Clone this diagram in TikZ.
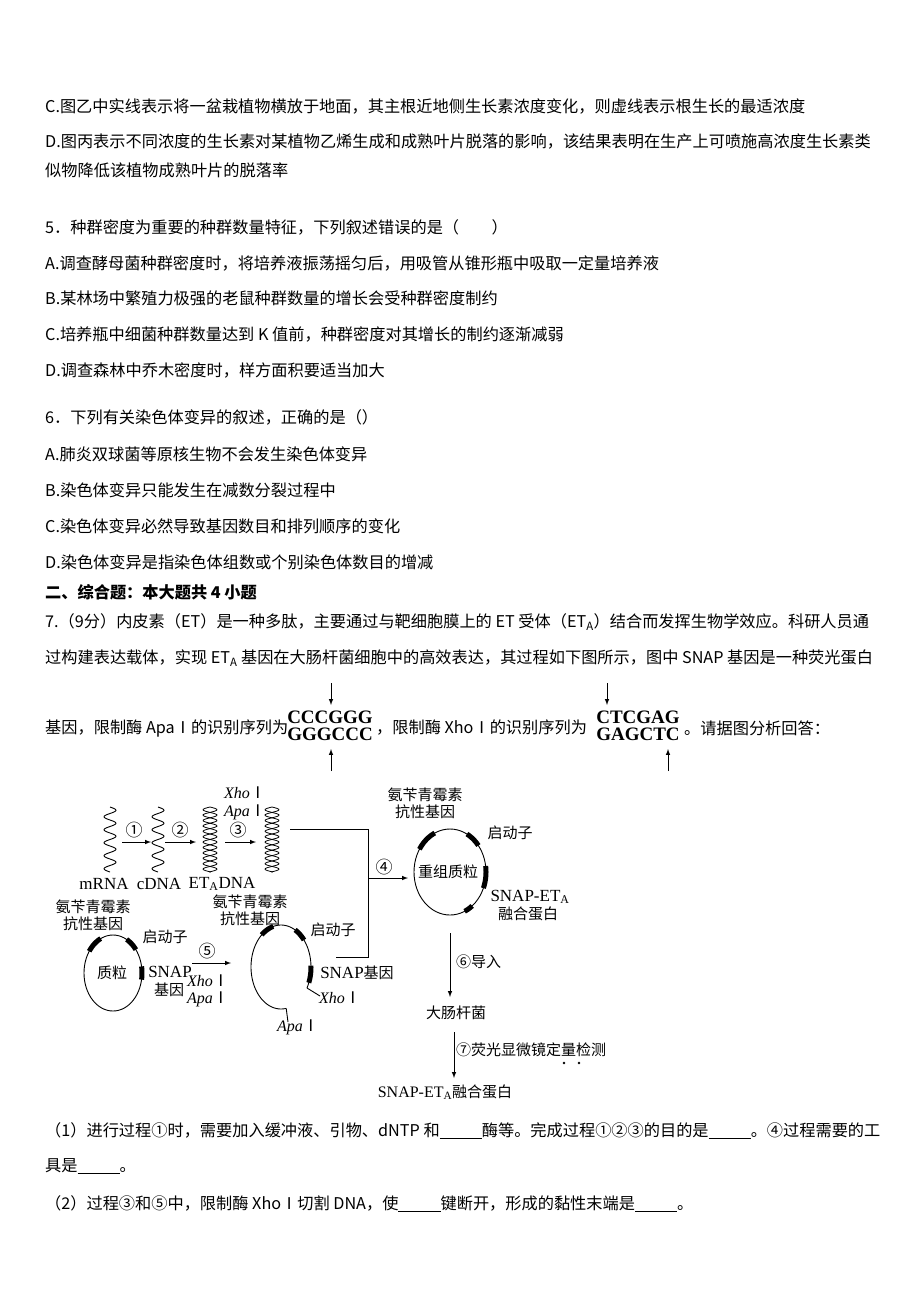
\documentclass[tikz,border=0pt]{standalone}
\usepackage{fontspec}
\setmainfont{Noto Sans CJK SC}
\newfontfamily\lat{Liberation Serif}
\newfontfamily\cjk{Noto Sans CJK SC}
\newcommand{\rI}{{\cjk\upshape Ⅰ}}
\begin{document}
\begin{tikzpicture}[x=1pt,y=-1pt,
 txt/.style={anchor=west,inner sep=0pt,font=\fontsize{16.2}{19}\selectfont},
 lab/.style={inner sep=0pt,font=\fontsize{15}{17}\selectfont,align=center},
 num/.style={inner sep=0pt,font=\fontsize{17}{18}\selectfont},
 latl/.style={inner sep=0pt,font=\lat\fontsize{17}{18}\selectfont,align=center},
 itl/.style={inner sep=0pt,font=\lat\itshape\fontsize{16}{18}\selectfont},
 seq/.style={inner sep=0pt,font=\lat\bfseries\fontsize{19}{20}\selectfont,align=center},
 arr/.style={-{latex},line width=1pt},
 thick seg/.style={line width=5pt}]
\useasboundingbox (0,0) rectangle (920,1302);
\fill[white] (0,0) rectangle (920,1302);
\node[txt] (l1) at (45,106) {C.图乙中实线表示将一盆栽植物横放于地面，其主根近地侧生长素浓度变化，则虚线表示根生长的最适浓度};
\node[txt] (l2) at (45,142) {D.图丙表示不同浓度的生长素对某植物乙烯生成和成熟叶片脱落的影响，该结果表明在生产上可喷施高浓度生长素类};
\node[txt] (l3) at (45,170) {似物降低该植物成熟叶片的脱落率};
\node[txt] (l4) at (45,227) {5．种群密度为重要的种群数量特征，下列叙述错误的是（\hspace{2em}）};
\node[txt] (l5) at (45,263) {A.调查酵母菌种群密度时，将培养液振荡摇匀后，用吸管从锥形瓶中吸取一定量培养液};
\node[txt] (l6) at (45,298) {B.某林场中繁殖力极强的老鼠种群数量的增长会受种群密度制约};
\node[txt] (l7) at (45,334) {C.培养瓶中细菌种群数量达到 K 值前，种群密度对其增长的制约逐渐减弱};
\node[txt] (l8) at (45,370) {D.调查森林中乔木密度时，样方面积要适当加大};
\node[txt] (l9) at (45,417) {6．下列有关染色体变异的叙述，正确的是（）};
\node[txt] (l10) at (45,454) {A.肺炎双球菌等原核生物不会发生染色体变异};
\node[txt] (l11) at (45,490) {B.染色体变异只能发生在减数分裂过程中};
\node[txt] (l12) at (45,526) {C.染色体变异必然导致基因数目和排列顺序的变化};
\node[txt] (l13) at (45,562) {D.染色体变异是指染色体组数或个别染色体数目的增减};
\node[txt,font=\bfseries\fontsize{16.2}{19}\selectfont] (l14) at (45,592) {二、综合题：本大题共 4 小题};
\node[txt] (l15) at (45,622) {7.（9分）内皮素（ET）是一种多肽，主要通过与靶细胞膜上的 ET 受体（ET\textsubscript{A}）结合而发挥生物学效应。科研人员通};
\node[txt] (l16) at (45,658) {过构建表达载体，实现 ET\textsubscript{A} 基因在大肠杆菌细胞中的高效表达，其过程如下图所示，图中 SNAP 基因是一种荧光蛋白};
\node[txt] (l17) at (45,728) {基因，限制酶 ApaⅠ的识别序列为};
\node[seq] (s1) at (330,726) {CCCGGG\\[-3pt]GGGCCC};
\node[txt] (l18) at (376,728) {，限制酶 XhoⅠ的识别序列为};
\node[seq] (s2) at (638,726) {CTCGAG\\[-3pt]GAGCTC};
\node[txt] (l19) at (684,728) {。请据图分析回答：};
\coordinate (a1s) at (331,683); \coordinate (a1e) at (331,705);
\coordinate (a2s) at (331,771); \coordinate (a2e) at (331,749);
\coordinate (a3s) at (607,683); \coordinate (a3e) at (607,705);
\coordinate (a4s) at (668,771); \coordinate (a4e) at (668,749);
\foreach \s/\e in {a1s/a1e,a2s/a2e,a3s/a3e,a4s/a4e} \draw[arr] (\s) -- (\e);
% waves
\draw[line width=0.9pt] plot[domain=0:65,samples=80] ({110+6*sin(\x/13*360)},{807+\x});
\draw[line width=0.9pt] plot[domain=0:65,samples=80] ({158+6*sin(\x/13*360)},{807+\x});
\foreach \cx in {210,272}{
 \draw[line width=0.8pt] plot[domain=0:65,samples=90] ({\cx+7*sin(\x/10.8*360)},{807+\x});
 \draw[line width=0.8pt] plot[domain=0:65,samples=90] ({\cx-7*sin(\x/10.8*360)},{807+\x});
}
\node[latl] (mrna) at (104,884) {mRNA};
\node[latl] (cdna) at (159,884) {cDNA};
\node[latl] (etdna) at (222,884) {ET\textsubscript{A}DNA};
\node[itl] (x1) at (245,793) {Xho\rI};
\node[itl] (p1) at (245,812) {Apa\rI};
\coordinate (w1) at (122,842); \coordinate (w2) at (151,842);
\coordinate (w3) at (165,842); \coordinate (w4) at (196,842);
\coordinate (w5) at (225,842); \coordinate (w6) at (256,842);
\draw[arr] (w1)--(w2); \draw[arr] (w3)--(w4); \draw[arr] (w5)--(w6);
\node[num] (c1) at (134,830) {①};
\node[num] (c2) at (180,830) {②};
\node[num] (c3) at (238,830) {③};
% joining lines
\coordinate (j1) at (290,829); \coordinate (j2) at (368,829);
\coordinate (j3) at (368,957); \coordinate (j4) at (336,957);
\coordinate (j5) at (368,878); \coordinate (j6) at (408,878);
\draw[line width=0.9pt] (j1)--(j2)--(j3)--(j4);
\draw[arr] (j5)--(j6);
\node[num] (c4) at (384,867) {④};
% recombinant plasmid
\draw[line width=0.9pt] (450,872) ellipse (36 and 43);
\foreach \a/\b in {212/245,298/322,-8/22,52/66}
 \draw[thick seg] plot[domain=\a:\b,samples=20] ({450+36*cos(\x)},{872+43*sin(\x)});
\node[lab] (rp) at (448,872) {重组质粒};
\node[lab] (rpa) at (425,803) {氨苄青霉素\\抗性基因};
\node[lab] (rpp) at (510,833) {启动子};
\node[latl] (rps) at (530,897) {SNAP-ET\textsubscript{A}};
\node[lab] (rpf) at (528,914) {融合蛋白};
\coordinate (d1) at (450,933); \coordinate (d2) at (450,997);
\draw[arr] (d1)--(d2);
\node[lab,anchor=west] (c6) at (456,962) {⑥导入};
\node[lab] (ec) at (456,1013) {大肠杆菌};
\coordinate (d3) at (454,1032); \coordinate (d4) at (454,1078);
\draw[arr] (d3)--(d4);
\node[lab,anchor=west] (c7) at (456,1050) {⑦荧光显微镜定量检测};
\fill (564,1063) circle (1.4); \fill (579,1063) circle (1.4);
\node[lab] (fin) at (445,1092) {{\lat\fontsize{16}{17}\selectfont SNAP-ET\textsubscript{A}}融合蛋白};
% plasmid
\draw[line width=0.9pt] (113,973) ellipse (29 and 38);
\foreach \a/\b in {215/245,298/322,-10/10}
 \draw[thick seg] plot[domain=\a:\b,samples=20] ({113+29*cos(\x)},{973+38*sin(\x)});
\node[lab] (zl) at (112,973) {质粒};
\node[lab] (pa) at (93,915) {氨苄青霉素\\抗性基因};
\node[lab] (pp) at (165,937) {启动子};
\node[latl] (ps) at (170,972) {SNAP};
\node[lab] (pg) at (169,990) {基因};
\coordinate (f1) at (192,963); \coordinate (f2) at (231,963);
\draw[arr] (f1)--(f2);
\node[num] (c5) at (207,951) {⑤};
\node[itl] (x2) at (208,981) {Xho\rI};
\node[itl] (p2) at (208,999) {Apa\rI};
% open plasmid
\draw[line width=0.9pt] plot[domain=80:390,samples=80] ({281+30*cos(\x)},{967+42*sin(\x)});
\foreach \a/\b in {230/255,298/320,358/382}
 \draw[thick seg] plot[domain=\a:\b,samples=20] ({281+30*cos(\x)},{967+42*sin(\x)});
\coordinate (o1) at (286.2,1008.4); \coordinate (o2) at (288,1022);
\coordinate (o3) at (307,988); \coordinate (o4) at (320,996);
\draw[line width=0.9pt] (o1)--(o2); \draw[line width=0.9pt] (o3)--(o4);
\node[lab] (oa) at (250,910) {氨苄青霉素\\抗性基因};
\node[lab] (op) at (333,930) {启动子};
\node[lab] (os) at (357,973) {{\lat\fontsize{17}{18}\selectfont SNAP}基因};
\node[itl] (x3) at (340,998) {Xho\rI};
\node[itl] (p3) at (298,1027) {Apa\rI};
% questions
\node[txt] (q1) at (45,1131) {（1）进行过程①时，需要加入缓冲液、引物、dNTP 和\underline{\hspace{2.6em}}酶等。完成过程①②③的目的是\underline{\hspace{2.6em}}。④过程需要的工};
\node[txt] (q2) at (45,1166) {具是\underline{\hspace{2.6em}}。};
\node[txt] (q3) at (45,1204) {（2）过程③和⑤中，限制酶 XhoⅠ切割 DNA，使\underline{\hspace{2.6em}}键断开，形成的黏性末端是\underline{\hspace{2.6em}}。};
\end{tikzpicture}
\end{document}
